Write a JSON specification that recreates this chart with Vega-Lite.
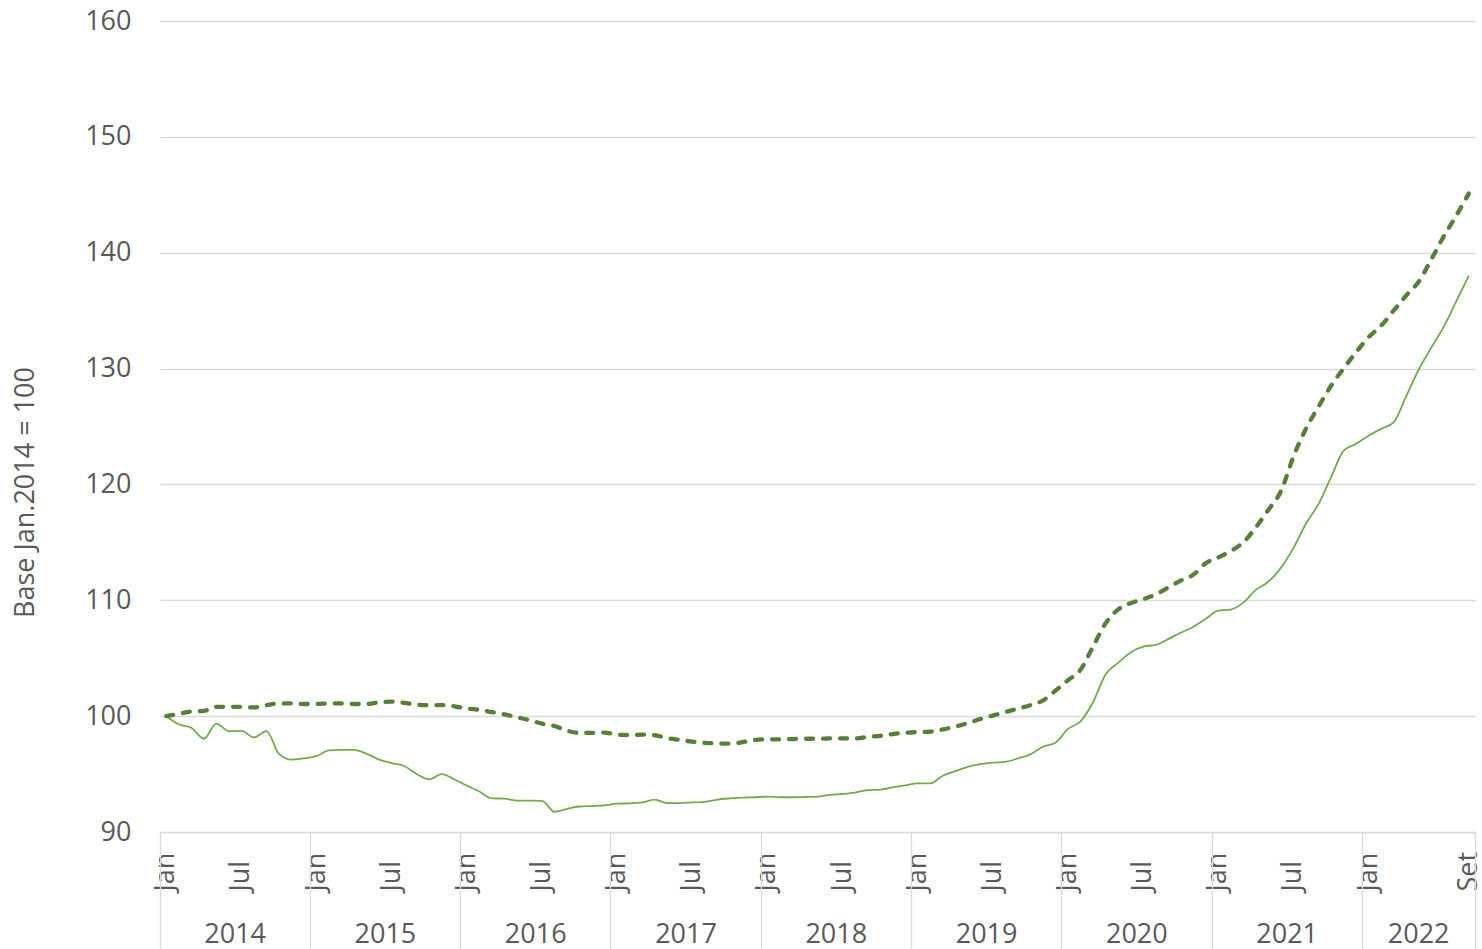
{
  "$schema": "https://vega.github.io/schema/vega-lite/v6.json",
  "width": 1315,
  "height": 811,
  "autosize": {"type": "none"},
  "padding": {"left": 160, "top": 21, "right": 7, "bottom": 117},
  "background": "white",
  "config": {
    "view": {"stroke": null},
    "axis": {"labelFont": "Open Sans", "labelFontSize": 27, "labelColor": "#595959", "titleFont": "Open Sans", "titleFontSize": 27, "titleColor": "#595959", "titleFontWeight": "normal", "labelOverlap": false, "labelBound": false, "labelFlush": false}
  },
  "data": {"values": [
    {"mes":"2014-01","a":100.0,"b":100.0},
    {"mes":"2014-02","a":100.2,"b":99.3},
    {"mes":"2014-03","a":100.4,"b":99.0},
    {"mes":"2014-04","a":100.45,"b":98.05},
    {"mes":"2014-05","a":100.8,"b":99.35},
    {"mes":"2014-06","a":100.8,"b":98.7},
    {"mes":"2014-07","a":100.8,"b":98.72},
    {"mes":"2014-08","a":100.75,"b":98.17},
    {"mes":"2014-09","a":100.95,"b":98.7},
    {"mes":"2014-10","a":101.1,"b":96.75},
    {"mes":"2014-11","a":101.1,"b":96.25},
    {"mes":"2014-12","a":101.05,"b":96.35},
    {"mes":"2015-01","a":101.05,"b":96.55},
    {"mes":"2015-02","a":101.1,"b":97.05},
    {"mes":"2015-03","a":101.1,"b":97.08},
    {"mes":"2015-04","a":101.05,"b":97.08},
    {"mes":"2015-05","a":101.05,"b":96.75},
    {"mes":"2015-06","a":101.2,"b":96.25},
    {"mes":"2015-07","a":101.25,"b":95.95},
    {"mes":"2015-08","a":101.15,"b":95.7},
    {"mes":"2015-09","a":101.0,"b":95.0},
    {"mes":"2015-10","a":100.95,"b":94.55},
    {"mes":"2015-11","a":100.96,"b":95.0},
    {"mes":"2015-12","a":100.85,"b":94.55},
    {"mes":"2016-01","a":100.65,"b":94.0},
    {"mes":"2016-02","a":100.55,"b":93.5},
    {"mes":"2016-03","a":100.35,"b":92.9},
    {"mes":"2016-04","a":100.15,"b":92.88},
    {"mes":"2016-05","a":99.9,"b":92.7},
    {"mes":"2016-06","a":99.65,"b":92.7},
    {"mes":"2016-07","a":99.35,"b":92.68},
    {"mes":"2016-08","a":99.15,"b":91.75},
    {"mes":"2016-09","a":98.75,"b":92.0},
    {"mes":"2016-10","a":98.55,"b":92.2},
    {"mes":"2016-11","a":98.55,"b":92.24},
    {"mes":"2016-12","a":98.58,"b":92.3},
    {"mes":"2017-01","a":98.4,"b":92.45},
    {"mes":"2017-02","a":98.37,"b":92.47},
    {"mes":"2017-03","a":98.4,"b":92.55},
    {"mes":"2017-04","a":98.35,"b":92.8},
    {"mes":"2017-05","a":98.1,"b":92.5},
    {"mes":"2017-06","a":97.95,"b":92.5},
    {"mes":"2017-07","a":97.8,"b":92.55},
    {"mes":"2017-08","a":97.7,"b":92.6},
    {"mes":"2017-09","a":97.65,"b":92.8},
    {"mes":"2017-10","a":97.62,"b":92.9},
    {"mes":"2017-11","a":97.75,"b":92.96},
    {"mes":"2017-12","a":97.95,"b":93.0},
    {"mes":"2018-01","a":98.0,"b":93.05},
    {"mes":"2018-02","a":97.99,"b":93.0},
    {"mes":"2018-03","a":98.02,"b":93.0},
    {"mes":"2018-04","a":98.05,"b":93.02},
    {"mes":"2018-05","a":98.05,"b":93.05},
    {"mes":"2018-06","a":98.08,"b":93.2},
    {"mes":"2018-07","a":98.08,"b":93.28},
    {"mes":"2018-08","a":98.08,"b":93.4},
    {"mes":"2018-09","a":98.2,"b":93.62},
    {"mes":"2018-10","a":98.3,"b":93.66},
    {"mes":"2018-11","a":98.45,"b":93.85},
    {"mes":"2018-12","a":98.57,"b":94.03},
    {"mes":"2019-01","a":98.62,"b":94.2},
    {"mes":"2019-02","a":98.66,"b":94.2},
    {"mes":"2019-03","a":98.85,"b":94.85},
    {"mes":"2019-04","a":99.1,"b":95.25},
    {"mes":"2019-05","a":99.4,"b":95.63},
    {"mes":"2019-06","a":99.75,"b":95.85},
    {"mes":"2019-07","a":100.05,"b":95.98},
    {"mes":"2019-08","a":100.35,"b":96.05},
    {"mes":"2019-09","a":100.65,"b":96.35},
    {"mes":"2019-10","a":100.95,"b":96.7},
    {"mes":"2019-11","a":101.35,"b":97.36},
    {"mes":"2019-12","a":102.2,"b":97.71},
    {"mes":"2020-01","a":103.1,"b":98.9},
    {"mes":"2020-02","a":104.0,"b":99.55},
    {"mes":"2020-03","a":106.0,"b":101.2},
    {"mes":"2020-04","a":108.0,"b":103.6},
    {"mes":"2020-05","a":109.2,"b":104.6},
    {"mes":"2020-06","a":109.75,"b":105.5},
    {"mes":"2020-07","a":110.1,"b":106.0},
    {"mes":"2020-08","a":110.5,"b":106.15},
    {"mes":"2020-09","a":111.1,"b":106.65},
    {"mes":"2020-10","a":111.7,"b":107.2},
    {"mes":"2020-11","a":112.2,"b":107.7},
    {"mes":"2020-12","a":113.2,"b":108.4},
    {"mes":"2021-01","a":113.7,"b":109.1},
    {"mes":"2021-02","a":114.25,"b":109.2},
    {"mes":"2021-03","a":115.0,"b":109.8},
    {"mes":"2021-04","a":116.3,"b":110.9},
    {"mes":"2021-05","a":117.8,"b":111.6},
    {"mes":"2021-06","a":119.4,"b":112.8},
    {"mes":"2021-07","a":122.4,"b":114.5},
    {"mes":"2021-08","a":124.8,"b":116.6},
    {"mes":"2021-09","a":126.7,"b":118.3},
    {"mes":"2021-10","a":128.5,"b":120.6},
    {"mes":"2021-11","a":130.0,"b":122.9},
    {"mes":"2021-12","a":131.4,"b":123.5},
    {"mes":"2022-01","a":132.7,"b":124.2},
    {"mes":"2022-02","a":133.7,"b":124.8},
    {"mes":"2022-03","a":135.0,"b":125.35},
    {"mes":"2022-04","a":136.3,"b":127.6},
    {"mes":"2022-05","a":137.5,"b":129.9},
    {"mes":"2022-06","a":139.4,"b":131.8},
    {"mes":"2022-07","a":141.4,"b":133.6},
    {"mes":"2022-08","a":143.2,"b":135.8},
    {"mes":"2022-09","a":145.1,"b":138.0}
  ]},
  "resolve": {"scale": {"x": "shared", "y": "shared"}, "axis": {"x": "independent", "y": "independent"}},
  "layer": [
    {
      "mark": {"type": "line", "color": "#70AD47", "strokeWidth": 1.8, "interpolate": "monotone"},
      "encoding": {
        "x": {"field": "mes", "type": "ordinal", "scale": {"type": "band", "paddingInner": 0, "paddingOuter": 0},
          "axis": {"orient": "bottom", "title": null, "values": ["2014-01","2014-07","2015-01","2015-07","2016-01","2016-07","2017-01","2017-07","2018-01","2018-07","2019-01","2019-07","2020-01","2020-07","2021-01","2021-07","2022-01","2022-09"],
            "labelExpr": "slice(datum.value,5)=='01' ? 'Jan' : (slice(datum.value,5)=='07' ? 'Jul' : 'Set')",
            "labelAngle": 270, "labelAlign": "left", "labelBaseline": "middle", "labelPadding": 59, "ticks": false, "tickSize": 0,
            "domain": true, "domainColor": "#D9D9D9", "domainWidth": 1.3, "grid": false}},
        "y": {"field": "b", "type": "quantitative", "scale": {"domain": [90, 160], "nice": false, "zero": false},
          "axis": {"values": [90,100,110,120,130,140,150,160], "grid": true, "gridColor": "#D9D9D9", "gridWidth": 1.3, "ticks": false, "domain": false, "labelPadding": 29,
            "title": "Base Jan.2014 = 100", "titleAngle": 270, "titleX": -135, "titleY": 471, "titleAlign": "center", "titleBaseline": "middle"}}
      }
    },
    {
      "mark": {"type": "line", "color": "#548235", "strokeWidth": 4.3, "strokeDash": [7, 10], "strokeCap": "round", "interpolate": "monotone"},
      "encoding": {
        "x": {"field": "mes", "type": "ordinal",
          "axis": {"orient": "bottom", "title": null, "values": ["2014-01","2015-01","2016-01","2017-01","2018-01","2019-01","2020-01","2021-01","2022-01"],
            "bandPosition": 0, "ticks": true, "tickSize": 117, "tickColor": "#D9D9D9", "tickWidth": 1.3, "labels": false, "domain": false, "grid": false}},
        "y": {"field": "a", "type": "quantitative", "axis": null}
      }
    },
    {
      "mark": {"type": "line", "opacity": 0},
      "encoding": {
        "x": {"field": "mes", "type": "ordinal",
          "axis": {"orient": "bottom", "title": null, "values": ["2022-09"],
            "bandPosition": 1, "ticks": true, "tickSize": 117, "tickColor": "#D9D9D9", "tickWidth": 1.3, "labels": false, "domain": false, "grid": false}},
        "y": {"field": "a", "type": "quantitative", "axis": null}
      }
    },
    {
      "mark": {"type": "line", "opacity": 0},
      "encoding": {
        "x": {"field": "mes", "type": "ordinal",
          "axis": {"orient": "bottom", "title": null, "values": ["2014-07","2015-07","2016-07","2017-07","2018-07","2019-07","2020-07","2021-07"],
            "ticks": false, "tickSize": 0, "labelOffset": -6.26, "labelExpr": "slice(datum.value,0,4)", "labelAngle": 0, "labelAlign": "center", "labelBaseline": "middle", "labelPadding": 102, "domain": false, "grid": false}},
        "y": {"field": "a", "type": "quantitative", "axis": null}
      }
    },
    {
      "mark": {"type": "line", "opacity": 0},
      "encoding": {
        "x": {"field": "mes", "type": "ordinal",
          "axis": {"orient": "bottom", "title": null, "values": ["2022-05"],
            "ticks": false, "tickSize": 0, "labelExpr": "slice(datum.value,0,4)", "labelAngle": 0, "labelAlign": "center", "labelBaseline": "middle", "labelPadding": 102, "domain": false, "grid": false}},
        "y": {"field": "a", "type": "quantitative", "axis": null}
      }
    }
  ]
}
